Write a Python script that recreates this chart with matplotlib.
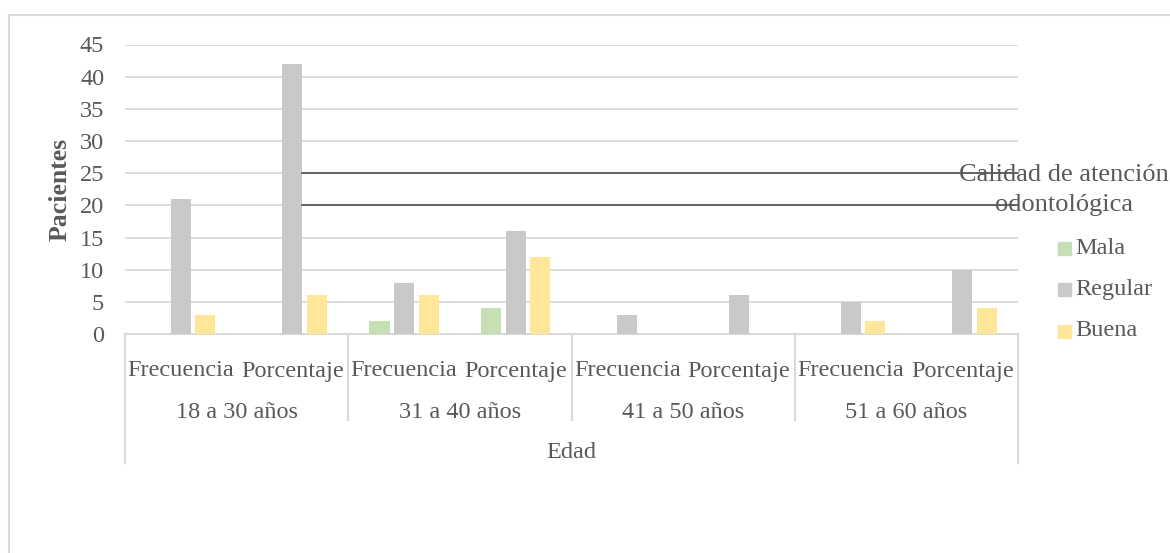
import matplotlib
matplotlib.use("Agg")
import matplotlib.pyplot as plt
from matplotlib.patches import Rectangle
from matplotlib.lines import Line2D
import numpy as np

# ---- data ----
groups = ["18 a 30 años", "31 a 40 años", "41 a 50 años", "51 a 60 años"]
subcats = ["Frecuencia", "Porcentaje"]
series_names = ["Mala", "Regular", "Buena"]
mala = [0, 0, 2, 4, 0, 0, 0, 0]
regular = [21, 42, 8, 16, 3, 6, 5, 10]
buena = [3, 6, 6, 12, 0, 0, 2, 4]
yticks = [0, 5, 10, 15, 20, 25, 30, 35, 40, 45]
dark_lines = [25, 20]
ylabel = "Pacientes"
xtitle = "Edad"
legend_title = "Calidad de atención\nodontológica"

colors = ["#C5E0B4", "#C9C9C9", "#FFE699"]
txt = "#595959"
grid_c = "#D9D9D9"
FS = 17.5

plt.rcParams["font.family"] = ["Liberation Serif", "DejaVu Serif"]

W, H = 1170, 553
fig = plt.figure(figsize=(W / 100, H / 100), dpi=100)

def fx(px):
    return px / W

def fy(py):
    return 1 - py / H

x_left, x_right, y_top, y_bot = 125, 1018, 44.5, 334
ax = fig.add_axes([fx(x_left), fy(y_bot), fx(x_right - x_left), (y_bot - y_top) / H])

n = len(regular)
x = np.arange(n)
width = 0.18
step = 0.22
for i, (vals, c) in enumerate(zip([mala, regular, buena], colors)):
    ax.bar(x + (i - 1) * step, vals, width=width, color=c, zorder=3)

ax.set_xlim(-0.5, n - 0.5)
ax.set_ylim(0, 45)
ax.set_yticks(yticks)
ax.set_yticklabels([str(t) for t in yticks], fontsize=FS, color=txt)
ax.tick_params(axis="y", length=0, pad=15)
ax.tick_params(axis="x", length=0, labelbottom=False)
for s in ["top", "right", "left"]:
    ax.spines[s].set_visible(False)
ax.spines["bottom"].set_color(grid_c)
ax.spines["bottom"].set_linewidth(1.5)
ax.grid(axis="y", color=grid_c, linewidth=1.3, zorder=0)
ax.set_axisbelow(True)

# dark lines at 25 and 20
x_start = (302 - x_left) / ((x_right - x_left) / n) - 0.5
for v in dark_lines:
    ax.plot([x_start, n - 0.5], [v, v], color="#404040", linewidth=1.1, zorder=4,
            clip_on=False)

ax.set_ylabel(ylabel, fontsize=18.5, fontweight="bold", color=txt)
ax.yaxis.set_label_coords((72 - x_left) / (x_right - x_left), 0.5)

# hierarchical category axis
trans = ax.get_xaxis_transform()
ah = y_bot - y_top

def ay(py):
    return (y_bot - py) / ah

for i in range(n):
    ax.text(x[i], ay(371), subcats[i % 2], transform=trans, ha="center", va="center",
            fontsize=FS, color=txt)
for g, name in enumerate(groups):
    ax.text(2 * g + 0.5, ay(412), name, transform=trans, ha="center", va="center",
            fontsize=FS, color=txt)
ax.text((n - 1) / 2, ay(452), xtitle, transform=trans, ha="center", va="center",
        fontsize=FS, color=txt)

for g in range(len(groups) + 1):
    xb = 2 * g - 0.5
    bottom = ay(463) if g in (0, len(groups)) else ay(420)
    ax.add_line(Line2D([xb, xb], [0, bottom], transform=trans, color=grid_c,
                       linewidth=1.5, clip_on=False))

# legend
fig.text(fx(1064), fy(190), legend_title, ha="center", va="center", fontsize=19,
         color=txt, linespacing=1.5)
leg_y = [248, 289, 331]
for name, c, yy in zip(series_names, colors, leg_y):
    fig.patches.append(Rectangle((fx(1058), fy(yy + 6.5)), fx(13), 13 / H, color=c,
                                 transform=fig.transFigure))
    fig.text(fx(1075), fy(yy), name, ha="left", va="center", fontsize=FS, color=txt)

# outer chart frame
fig.add_artist(Line2D([fx(8.5), 1], [fy(15), fy(15)], color=grid_c, linewidth=1.5))
fig.add_artist(Line2D([fx(8.5), fx(8.5)], [fy(15), 0], color=grid_c, linewidth=1.5))

fig.savefig("out.png", dpi=100)
